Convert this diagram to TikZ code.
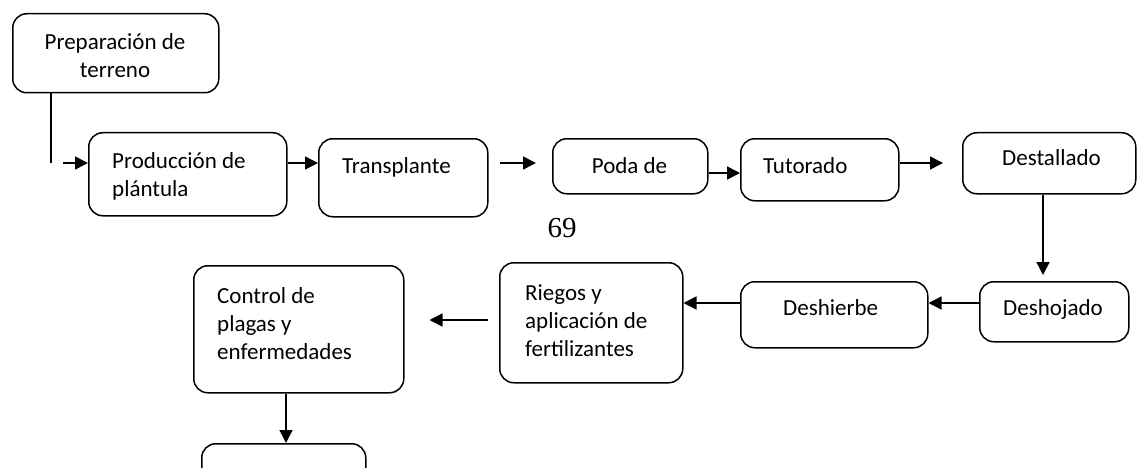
\documentclass[tikz,border=0pt]{standalone}
\usepackage{fontspec}
\setmainfont{Carlito}
\newfontfamily\numfont{Liberation Serif}
\usetikzlibrary{arrows.meta}
\begin{document}
\begin{tikzpicture}[x=1pt,y=-1pt,
  box/.style={draw, line width=1.5pt, rounded corners=14pt, inner sep=0pt, anchor=north west},
  lbl/.style={inner sep=0pt, font=\fontsize{23}{28}\selectfont},
  arr/.style={line width=1.5pt, -{Triangle[length=13pt,width=13pt]}},
  ln/.style={line width=1.5pt}]
\useasboundingbox (0,0) rectangle (1137,468);
\clip (0,0) rectangle (1137,468);
\fill[white] (0,0) rectangle (1137,468);
% boxes
\node[box, minimum width=206pt, minimum height=79pt] (prep) at (12,13) {};
\node[box, minimum width=198pt, minimum height=83pt] (prod) at (88,132) {};
\node[box, minimum width=169pt, minimum height=78pt] (trans) at (318,138) {};
\node[box, minimum width=155pt, minimum height=55pt] (poda) at (552,138) {};
\node[box, minimum width=158pt, minimum height=62pt] (tuto) at (740,138) {};
\node[box, minimum width=173pt, minimum height=61pt] (dest) at (962,132) {};
\node[box, minimum width=149pt, minimum height=60pt] (desh) at (979,281) {};
\node[box, minimum width=187pt, minimum height=66pt] (dhb) at (740,281) {};
\node[box, minimum width=183pt, minimum height=120pt] (rieg) at (499,262) {};
\node[box, minimum width=210pt, minimum height=127pt] (ctrl) at (193,265) {};
\node[box, minimum width=164pt, minimum height=80pt] (last) at (201,443) {};
% texts
\node[lbl, anchor=base] (prep-t) at (115,50) {\begin{tabular}[t]{@{}c@{}}Preparación de\\terreno\end{tabular}};
\node[lbl, anchor=base west] (prod-t) at (112,168) {\begin{tabular}[t]{@{}l@{}}Producción de\\plántula\end{tabular}};
\node[lbl, anchor=base west] (trans-t) at (342,173) {Transplante};
\node[lbl, anchor=base] (poda-t) at (629.5,173) {Poda de};
\node[lbl, anchor=base west] (tuto-t) at (763,173) {Tutorado};
\node[lbl, anchor=base west] (dest-t) at (1002,165) {Destallado};
\node[lbl, anchor=base west] (desh-t) at (1003,315) {Deshojado};
\node[lbl, anchor=base west] (dhb-t) at (783,315) {Deshierbe};
\node[lbl, anchor=base west] (rieg-t) at (525,300) {\begin{tabular}[t]{@{}l@{}}Riegos y\\aplicación de\\fertilizantes\end{tabular}};
\node[lbl, anchor=base west] (ctrl-t) at (217,303) {\begin{tabular}[t]{@{}l@{}}Control de\\plagas y\\enfermedades\end{tabular}};
\node[inner sep=0pt, anchor=base, font=\numfont\fontsize{29}{34}\selectfont] (num) at (562,237) {69};
% connector coordinates
\coordinate (c1) at (51,163);
\coordinate (c2) at (63,163);
\coordinate (c3) at (0,173);
\coordinate (c4) at (1043,0);
\coordinate (c5) at (0,303);
\coordinate (c6) at (0,320);
\coordinate (c7) at (286,0);
% connectors
\draw[ln] (prep.south -| c1) -- (c1);
\draw[arr] (c2) -- (prod.west |- c2);
\draw[arr] (prod.east |- c2) -- (trans.west |- c2);
\draw[arr, shorten <=11pt, shorten >=16pt] (trans.east |- c2) -- (poda.west |- c2);
\draw[arr] (poda.east |- c3) -- (tuto.west |- c3);
\draw[arr, shorten >=19pt] (tuto.east |- c2) -- (dest.west |- c2);
\draw[arr, shorten >=6pt] (dest.south -| c4) -- (desh.north -| c4);
\draw[arr] (desh.west |- c5) -- (dhb.east |- c5);
\draw[arr] (dhb.west |- c5) -- (rieg.east |- c5);
\draw[arr, shorten <=11pt, shorten >=25pt] (rieg.west |- c6) -- (ctrl.east |- c6);
\draw[arr] (ctrl.south -| c7) -- (last.north -| c7);
\end{tikzpicture}
\end{document}
